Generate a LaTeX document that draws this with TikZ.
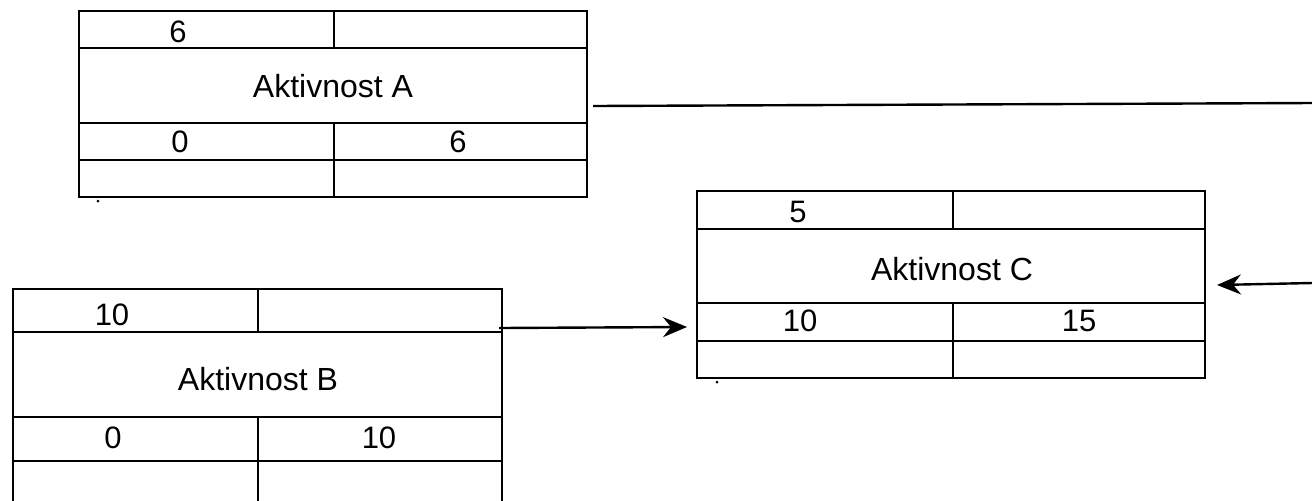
\documentclass[tikz,border=0pt]{standalone}
\usepackage{fontspec}
\setmainfont{Liberation Sans}
\usepackage{tikz}
\usetikzlibrary{calc}
\usetikzlibrary{arrows.meta}
\tikzset{
    cell/.style={line width=1pt, draw=black},
    num/.style={inner sep=0pt, font=\fontsize{15.5}{18}\selectfont},
    title/.style={inner sep=0pt, font=\fontsize{16}{19}\selectfont},
    link/.style={line width=1.2pt},
    arrow/.style={line width=1.2pt, -{Stealth[length=12pt, width=10pt, inset=4pt]}}
}

\begin{document}
\begin{tikzpicture}[x=0.5pt,y=-0.5pt]
\useasboundingbox (0,0) rectangle (1312,500);
\clip (0,0) rectangle (1312,500);
% Aktivnost A
\draw[cell] (79,11) rectangle (587,197);
\draw[cell] (79,48) -- (587,48) (79,123) -- (587,123) (79,160) -- (587,160);
\draw[cell] (334,11) -- (334,48) (334,123) -- (334,197);
\node[num] (Adur) at (178,32) {6};
\node[title] (Aname) at (333,86) {Aktivnost A};
\node[num] (Aes) at (180,142) {0};
\node[num] (Aef) at (458,142) {6};
\fill (98,201) circle (1.5);
% Aktivnost B
\draw[cell] (13,289) rectangle (502,510);
\draw[cell] (13,332) -- (502,332) (13,417) -- (502,417) (13,461) -- (502,461);
\draw[cell] (258,289) -- (258,332) (258,417) -- (258,510);
\node[num] (Bdur) at (112,315) {10};
\node[title] (Bname) at (258,379) {Aktivnost B};
\node[num] (Bes) at (113,438) {0};
\node[num] (Bef) at (379,438) {10};
% Aktivnost C
\draw[cell] (697,191) rectangle (1205,378);
\draw[cell] (697,229) -- (1205,229) (697,303) -- (1205,303) (697,341) -- (1205,341);
\draw[cell] (953,191) -- (953,229) (953,303) -- (953,378);
\node[num] (Cdur) at (798,212) {5};
\node[title] (Cname) at (952,269) {Aktivnost C};
\node[num] (Ces) at (800,321) {10};
\node[num] (Cef) at (1079,321) {15};
\fill (717,382) circle (1.5);
% veze
\coordinate (Aout) at (593,106);
\coordinate (Aend) at (1312,103);
\coordinate (Bout) at (499,328);
\coordinate (Cin) at (687,327);
\coordinate (Cstart) at (1312,283);
\coordinate (Cin2) at (1217,285);
\draw[link] (Aout) -- (Aend);
\draw[arrow] (Bout) -- (Cin);
\draw[arrow] (Cstart) -- (Cin2);
\end{tikzpicture}
\end{document}
